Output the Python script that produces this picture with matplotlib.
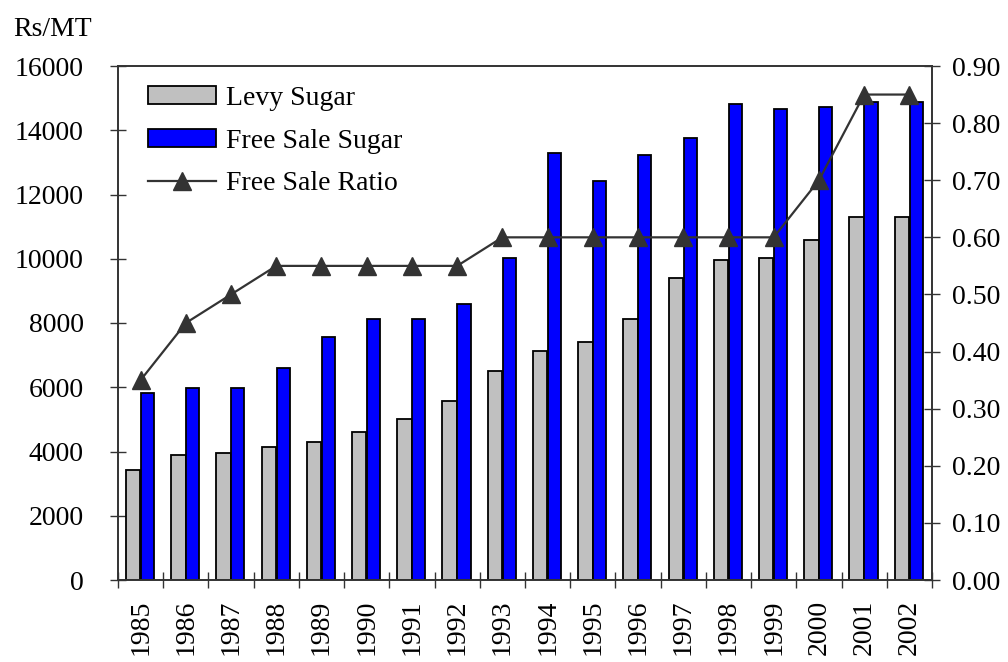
import matplotlib
matplotlib.use("Agg")
import matplotlib.pyplot as plt
import numpy as np

years = ["1985", "1986", "1987", "1988", "1989", "1990", "1991", "1992", "1993",
         "1994", "1995", "1996", "1997", "1998", "1999", "2000", "2001", "2002"]
levy = [3420, 3890, 3960, 4130, 4290, 4610, 5000, 5560, 6520,
        7140, 7400, 8130, 9390, 9950, 10020, 10580, 11310, 11310]
free_sale = [5810, 5970, 5970, 6610, 7560, 8140, 8140, 8590, 10030,
             13290, 12420, 13220, 13770, 14820, 14650, 14720, 14890, 14890]
ratio = [0.35, 0.45, 0.50, 0.55, 0.55, 0.55, 0.55, 0.55, 0.60,
         0.60, 0.60, 0.60, 0.60, 0.60, 0.60, 0.70, 0.85, 0.85]

plt.rcParams['font.family'] = ['Liberation Serif', 'DejaVu Serif']
plt.rcParams['font.size'] = 20

fig = plt.figure(figsize=(10.08, 6.62), dpi=100)
ax = fig.add_axes([118/1008, 1-580/662, (932-118)/1008, (580-66)/662])
x = np.arange(len(years))
b1 = ax.bar(x - 0.165, levy, width=0.32, color='#c0c0c0', edgecolor='black', linewidth=1.3, zorder=2)
b2 = ax.bar(x + 0.15, free_sale, width=0.29, color='#0000ff', edgecolor='black', linewidth=1.3, zorder=2)
ax.set_xlim(-0.5, len(years) - 0.5)
ax.set_ylim(0, 16000)
ax.set_yticks(np.arange(0, 16001, 2000))
ax.set_xticks(x)
ax.set_xticklabels(years, rotation=90)
ax.set_xticks(np.arange(-0.5, len(years), 1), minor=True)
ax.tick_params(axis='x', which='major', length=0, pad=14)
ax.tick_params(axis='x', which='minor', direction='inout', length=11, width=1, color='#333333')
ax.tick_params(axis='y', direction='inout', length=11, width=1, color='#333333', pad=19)
for s in ['left', 'bottom', 'top', 'right']:
    ax.spines[s].set_color('#333333')
    ax.spines[s].set_linewidth(1.2)

ax2 = ax.twinx()
ln, = ax2.plot(x, ratio, color='#333333', linewidth=1.6, marker='^', markersize=13, zorder=3)
ax2.set_ylim(0, 0.9)
ax2.set_yticks(np.arange(0, 0.91, 0.1))
ax2.set_yticklabels([f"{v:.2f}" for v in np.arange(0, 0.91, 0.1)])
ax2.tick_params(axis='y', direction='inout', length=11, width=1, color='#333333', pad=9)
for s in ['left', 'bottom', 'top', 'right']:
    ax2.spines[s].set_color('#333333')
    ax2.spines[s].set_linewidth(1.2)

fig.legend([b1, b2, ln], ['Levy Sugar', 'Free Sale Sugar', 'Free Sale Ratio'],
           loc='upper left', bbox_to_anchor=(148/1008, 1-86/662), frameon=False,
           borderpad=0, borderaxespad=0,
           handlelength=2.45, handleheight=0.6, labelspacing=0.63, fontsize=20,
           handletextpad=0.35)

fig.text(13/1008, 1-29/662, 'Rs/MT', fontsize=20, va='center', ha='left')

fig.savefig('out.png', dpi=100)
